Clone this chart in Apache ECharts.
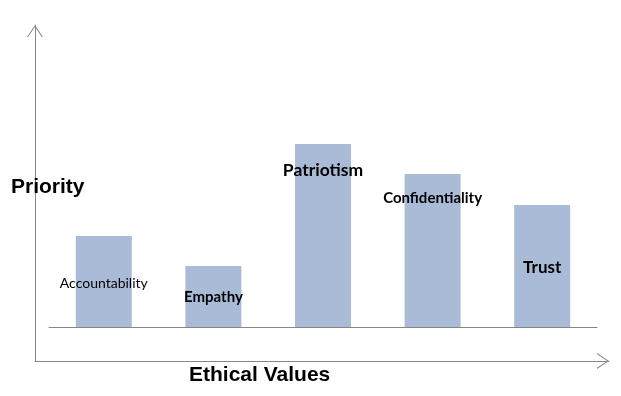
<!DOCTYPE html>
<html>
<head>
<meta charset="utf-8">
<script src="https://cdn.jsdelivr.net/npm/echarts@6/dist/echarts.min.js"></script>
<style>html,body{margin:0;padding:0;background:#fff}#c{width:621px;height:396px}</style>
</head>
<body>
<div id="c"></div>
<script>
// Data
const categories = ['Accountability', 'Empathy', 'Patriotism', 'Confidentiality', 'Trust'];
const priority = [91, 61, 183, 153, 122];
const yMax = 300;

// Label styling (per bar), separate from data
const labelStyles = [
  { dy: 47, size: 14, weight: 'normal' },
  { dy: 31, size: 15, weight: 'bold' },
  { dy: 26, size: 17.5, weight: 'bold' },
  { dy: 24, size: 15, weight: 'bold' },
  { dy: 63, size: 17, weight: 'bold' }
];

const chevron = 'path://M0,12 L8,0 L16,12 L14.8,12 L8,1.8 L1.2,12 Z';
const lineGrey = '#868686';

const chart = echarts.init(document.getElementById('c'));
chart.setOption({
  animation: false,
  backgroundColor: '#fff',
  title: [
    { text: 'Priority', left: 6, top: 172, textStyle: { fontFamily: 'Liberation Sans', fontWeight: 'bold', fontSize: 21, color: '#000' } },
    { text: 'Ethical Values', left: 184, top: 360, textStyle: { fontFamily: 'Liberation Sans', fontWeight: 'bold', fontSize: 21, color: '#000' } }
  ],
  grid: [
    { left: 49, right: 24, top: 27, bottom: 69 },
    { left: 35, right: 12, top: 25, bottom: 35 }
  ],
  xAxis: [
    { type: 'category', gridIndex: 0, data: categories,
      axisLine: { lineStyle: { color: lineGrey, width: 1 } },
      axisTick: { show: false }, axisLabel: { show: false }, splitLine: { show: false } },
    { type: 'value', gridIndex: 1, min: 0, max: 1,
      axisLine: { show: true, onZero: false, symbol: ['none', chevron], symbolSize: [16, 12], symbolOffset: [0, -6], lineStyle: { color: lineGrey, width: 1 } },
      axisTick: { show: false }, axisLabel: { show: false }, splitLine: { show: false } }
  ],
  yAxis: [
    { type: 'value', gridIndex: 0, min: 0, max: yMax, show: false, splitLine: { show: false } },
    { type: 'value', gridIndex: 1, min: 0, max: 1,
      axisLine: { show: true, onZero: false, symbol: ['none', chevron], symbolSize: [16, 12], symbolOffset: [0, -6], lineStyle: { color: lineGrey, width: 1 } },
      axisTick: { show: false }, axisLabel: { show: false }, splitLine: { show: false } }
  ],
  series: [{
    type: 'bar',
    xAxisIndex: 0, yAxisIndex: 0,
    barWidth: 56,
    itemStyle: { color: '#aabbd8' },
    data: priority.map((v, i) => ({
      value: v,
      label: {
        show: true,
        formatter: categories[i],
        position: ['50%', labelStyles[i].dy],
        align: 'center',
        verticalAlign: 'middle',
        fontFamily: 'Lato',
        fontSize: labelStyles[i].size,
        fontWeight: labelStyles[i].weight,
        color: '#000'
      }
    }))
  }]
});
</script>
</body>
</html>
